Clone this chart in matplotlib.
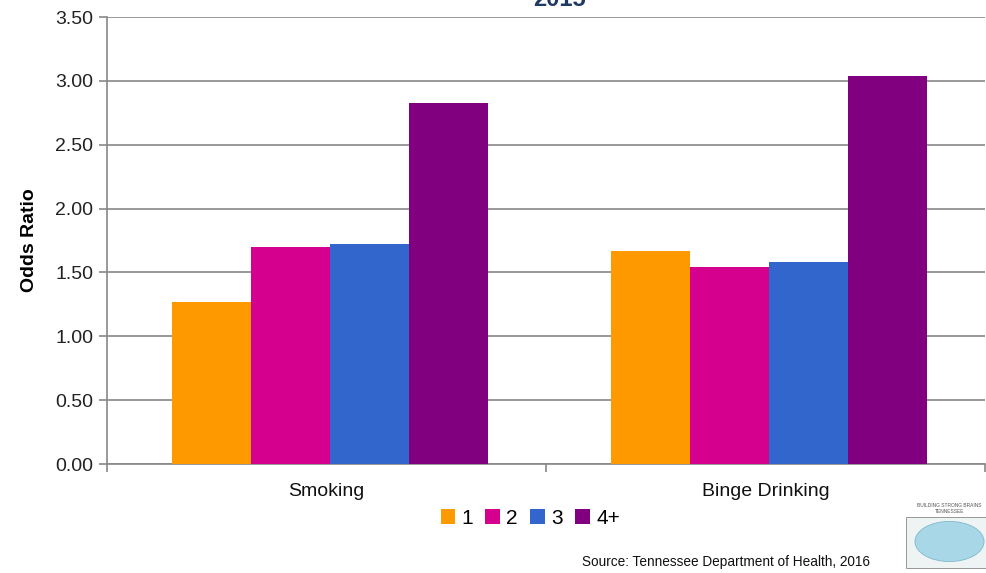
import numpy as np
import matplotlib.pyplot as plt

plt.rcParams["font.family"] = ["Liberation Sans", "DejaVu Sans"]

categories = ["Smoking", "Binge Drinking"]
series_labels = ["1", "2", "3", "4+"]
smoking = [1.27, 1.70, 1.72, 2.83]
binge = [1.67, 1.54, 1.58, 3.04]
colors = ["#FF9900", "#D6008F", "#3366CC", "#800080"]
yticks = [0.0, 0.5, 1.0, 1.5, 2.0, 2.5, 3.0, 3.5]

values = np.array([smoking, binge])  # rows = categories, cols = series

fig = plt.figure(figsize=(9.87, 5.73), dpi=100)
ax = fig.add_axes([0.1084, 0.1902, 0.8896, 0.7801])

x = np.arange(len(categories)) + 0.5
width = 0.18
for i, lab in enumerate(series_labels):
    ax.bar(x + (i - 1.5) * width + 0.008, values[:, i], width, color=colors[i],
           label=lab, zorder=3)

ax.set_xlim(0, 2)
ax.set_ylim(0, 3.5)
ax.set_yticks(yticks)
ax.set_yticklabels(["%.2f" % v for v in yticks], fontsize=14, color="#222222")
ax.set_xticks(x)
ax.set_xticklabels(categories, fontsize=14, color="#111111")
ax.set_xticks([0, 1, 2], minor=True)
ax.tick_params(axis="x", which="major", length=0, pad=14)
ax.tick_params(axis="x", which="minor", length=6, color="#888888", width=1.2)
ax.tick_params(axis="y", length=6, color="#888888", width=1.2, pad=4)

ax.yaxis.grid(True, color="#999999", linewidth=1.4, zorder=0)
ax.set_axisbelow(True)
for s in ["top", "right"]:
    ax.spines[s].set_visible(False)
for s in ["left", "bottom"]:
    ax.spines[s].set_color("#888888")
    ax.spines[s].set_linewidth(1.2)

ax.set_ylabel("Odds Ratio", fontsize=14, fontweight="bold", labelpad=12)

leg = ax.legend(loc="upper center", bbox_to_anchor=(0.482, -0.058), ncol=4,
                frameon=False, fontsize=15, handlelength=0.7, handleheight=0.7,
                handletextpad=0.3, columnspacing=0.6)

fig.text(0.567, 0.99, "2015", ha="center", va="baseline", fontsize=17,
         fontweight="bold", color="#1F3864")

fig.text(0.59, 0.012, "Source: Tennessee Department of Health, 2016",
         fontsize=9.8, color="#111111")
fig.text(0.962, 0.105, "BUILDING STRONG BRAINS\nTENNESSEE", fontsize=3.5,
         ha="center", color="#555555")
fig.patches.append(plt.Rectangle((0.918, 0.008), 0.082, 0.09,
                                 transform=fig.transFigure, facecolor="#EEF3F3",
                                 edgecolor="#888888", linewidth=0.6))
fig.patches.append(plt.Circle((0.962, 0.055), 0.035, transform=fig.transFigure,
                              facecolor="#A8D8E8", edgecolor="#7FB8CC",
                              linewidth=0.6))

fig.savefig("out.png", dpi=100)
